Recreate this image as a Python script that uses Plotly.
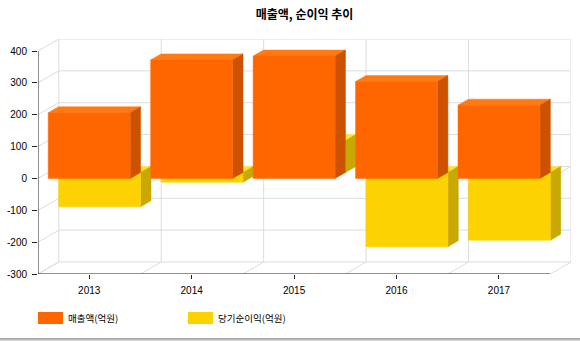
import math
import plotly.graph_objects as go

# ---- data -------------------------------------------------------------
years = ["2013", "2014", "2015", "2016", "2017"]
sales = [206, 372, 384, 304, 230]            # 매출액(억원)
net_income = [-108, -31, 100, -233, -213]    # 당기순이익(억원)
series_names = ["매출액(억원)", "당기순이익(억원)"]
y_tick_vals = [-300, -200, -100, 0, 100, 200, 300, 400]
y_tick_text = ["-300", "-200", "-100", "0", "100", "200", "300", "400"]
chart_title = "매출액, 순이익 추이"

# ---- look -------------------------------------------------------------
W, H = 580, 341
M_L, M_R, M_T, M_B = 38, 9, 39, 67
DEPTH_PX, ANGLE = 24.0, 30.0          # 3D depth and viewing angle
BAR_WIDTH = 0.8
GRID = "#DCDCDC"
AXIS = "#222222"
FACE = {
    0: dict(front="#FF6600", side="#CC5200", top="#FF7A12"),
    1: dict(front="#FCD202", side="#C9A802", top="#FFE52A"),
}
FONT = "Liberation Sans, Arial, sans-serif"
KFONT = "Noto Sans CJK KR, sans-serif"

plot_w = W - M_L - M_R
plot_h = H - M_T - M_B
dx_px = DEPTH_PX * math.cos(math.radians(ANGLE))
dy_px = DEPTH_PX * math.sin(math.radians(ANGLE))
n = len(years)
x_unit = (plot_w - dx_px) / n                         # px per category
y_lo, y_hi = y_tick_vals[0], y_tick_vals[-1]
y_unit = (plot_h - dy_px) / (y_hi - y_lo)             # px per value unit
DX = dx_px / x_unit                                   # depth in x data units
DY = dy_px / y_unit                                   # depth in y data units
x_lo, x_hi = -0.5, n - 0.5

fig = go.Figure()

# ---- walls and grid ----------------------------------------------------
shapes = []
def seg(x0, y0, x1, y1, color=GRID, width=1, layer="below"):
    shapes.append(dict(type="line", xref="x", yref="y", x0=x0, y0=y0, x1=x1, y1=y1,
                       line=dict(color=color, width=width), layer=layer))

for v in y_tick_vals:
    seg(x_lo + DX, v + DY, x_hi + DX, v + DY)          # back wall
    seg(x_lo, v, x_lo + DX, v + DY)                    # left wall
for k in range(n + 1):
    seg(x_lo + k + DX, y_lo + DY, x_lo + k + DX, y_hi + DY)   # back wall verticals
    seg(x_lo + k, y_lo, x_lo + k + DX, y_lo + DY)             # floor
seg(x_hi, 0, x_hi + DX, DY)                            # base at zero, right side

# front axes
seg(x_lo, y_lo, x_lo, y_hi, AXIS, 1, "above")
seg(x_lo, y_lo, x_hi, y_lo, AXIS, 1, "above")

# ---- 3D columns ---------------------------------------------------------
def faces(values, layer):
    ox, oy = layer * DX / 2, layer * DY / 2
    d_x, d_y = DX / 2, DY / 2
    fx, fy, sx, sy, tx, ty = [], [], [], [], [], []
    for i, v in enumerate(values):
        l, r = i - BAR_WIDTH / 2 + ox, i + BAR_WIDTH / 2 + ox
        b, t = oy, v + oy
        fx += [l, r, r, l, l, None]
        fy += [b, b, t, t, b, None]
        sx += [r, r + d_x, r + d_x, r, r, None]
        sy += [b, b + d_y, t + d_y, t, b, None]
        top = max(v, 0) + oy
        tx += [l, r, r + d_x, l + d_x, l, None]
        ty += [top, top, top + d_y, top + d_y, top, None]
    return (fx, fy), (sx, sy), (tx, ty)

def poly(xy, color):
    fig.add_trace(go.Scatter(x=xy[0], y=xy[1], mode="lines", fill="toself",
                             fillcolor=color, line=dict(color=color, width=0.5),
                             hoverinfo="skip", showlegend=False))

# back row first, then the front row
for layer, vals in ((1, net_income), (0, sales)):
    front, side, top = faces(vals, layer)
    poly(top, FACE[layer]["top"])
    poly(side, FACE[layer]["side"])
    poly(front, FACE[layer]["front"])

# ---- legend -------------------------------------------------------------
def px_x(p):
    return (p - M_L) / plot_w
def px_y(p):
    return (H - M_B - p) / plot_h

annotations = []
legend_x = [38, 188]
for k, name in enumerate(series_names):
    x0 = legend_x[k]
    shapes.append(dict(type="rect", xref="paper", yref="paper",
                       x0=px_x(x0), x1=px_x(x0 + 25), y0=px_y(324), y1=px_y(312),
                       fillcolor=FACE[k]["front"], line=dict(width=0), layer="above"))
    annotations.append(dict(xref="paper", yref="paper", x=px_x(x0 + 28), y=px_y(318),
                            text=name, showarrow=False, xanchor="left", yanchor="middle",
                            font=dict(family=KFONT, size=9.5, color="#000")))

# soft shadow along the bottom edge
for j, c in enumerate(["#D8D8D8", "#B8B8B8", "#A8A8A8"]):
    shapes.append(dict(type="rect", xref="paper", yref="paper",
                       x0=px_x(0), x1=px_x(W), y0=px_y(H - j), y1=px_y(H - j - 1),
                       fillcolor=c, line=dict(width=0), layer="above"))

fig.update_layout(
    width=W, height=H,
    margin=dict(l=M_L, r=M_R, t=M_T, b=M_B, pad=0, autoexpand=False),
    paper_bgcolor="white", plot_bgcolor="white",
    showlegend=False,
    title=dict(text=chart_title, x=0.5, xref="paper", xanchor="center",
               y=1 - 15 / H, yref="container", yanchor="middle",
               font=dict(family=KFONT, size=12, color="#000", weight="bold")),
    xaxis=dict(range=[x_lo, x_hi + DX], showgrid=False, zeroline=False, showline=False,
               automargin=False,
               tickmode="array", tickvals=list(range(n)), ticktext=years,
               ticks="outside", ticklen=4, tickcolor=AXIS, tickwidth=1,
               ticklabelstandoff=3,
               tickfont=dict(family=FONT, size=10, color="#000"), fixedrange=True),
    yaxis=dict(range=[y_lo, y_hi + DY], showgrid=False, zeroline=False, showline=False,
               automargin=False,
               tickmode="array", tickvals=y_tick_vals, ticktext=y_tick_text,
               ticks="outside", ticklen=5, tickcolor=AXIS, tickwidth=1,
               ticklabelstandoff=3,
               tickfont=dict(family=FONT, size=10, color="#000"), fixedrange=True),
    shapes=shapes,
    annotations=annotations,
)

fig.write_html("out.html")
